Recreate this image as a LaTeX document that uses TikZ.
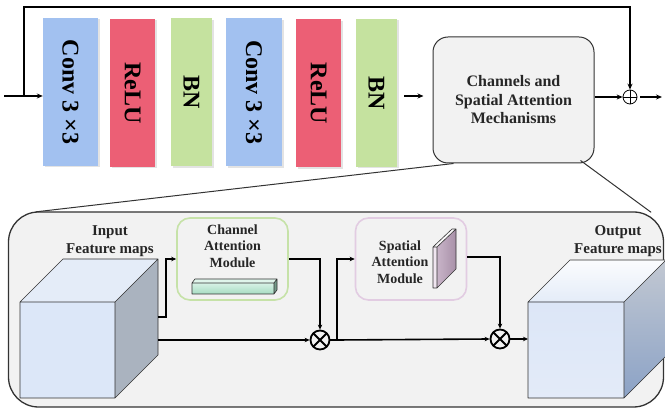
\documentclass[tikz,border=0pt]{standalone}
\usepackage{fontspec}
\setmainfont{Liberation Serif}
\usetikzlibrary{arrows.meta,shadows}
\definecolor{convblue}{HTML}{A2C1F0}
\definecolor{relured}{HTML}{EC5F75}
\definecolor{bngreen}{HTML}{C5E29F}
\definecolor{panelgray}{HTML}{F2F2F2}
\definecolor{edgegray}{HTML}{333333}
\definecolor{camgreen}{HTML}{C6E2A8}
\definecolor{sampink}{HTML}{E2CCE2}
\definecolor{cubetop}{HTML}{E4ECF8}
\definecolor{cubeside}{HTML}{AAB3BF}
\definecolor{cubefront}{HTML}{DCE7F8}
\definecolor{barlight}{HTML}{D8F2E6}
\definecolor{bardark}{HTML}{A6DCC2}
\definecolor{slablight}{HTML}{C8B4C8}
\definecolor{slabdark}{HTML}{A890A8}
\definecolor{slabedge}{HTML}{F0E6F0}
\definecolor{outfrontmid}{HTML}{B2CBF0}
\definecolor{outfronttop}{HTML}{DCE6F7}
\definecolor{outsidetop}{HTML}{C2C8D2}
\definecolor{outsidebot}{HTML}{8BA2C6}
\newcommand\lyrfont{\fontsize{24}{24}\selectfont\bfseries}
\tikzset{
  layerbox/.style={draw=none, fill=#1, minimum height=148pt, inner sep=0pt,
    drop shadow={shadow xshift=1.5pt, shadow yshift=-1.5pt, fill=black!22}},
  arr/.style={-{Stealth[length=6pt,width=5pt]}, line width=1.4pt},
  smallarr/.style={-{Stealth[length=5pt,width=4.5pt]}, line width=1.6pt},
  otimesnode/.style={circle, draw, line width=1.8pt, minimum size=19pt, inner sep=0pt,
    path picture={\draw[line width=1.8pt] ([shift={(-6.7pt,6.7pt)}]path picture bounding box.center) -- ([shift={(6.7pt,-6.7pt)}]path picture bounding box.center)
      ([shift={(6.7pt,6.7pt)}]path picture bounding box.center) -- ([shift={(-6.7pt,-6.7pt)}]path picture bounding box.center);}},
  oplusnode/.style={circle, draw, line width=0.8pt, minimum size=14pt, inner sep=0pt,
    path picture={\draw[line width=0.8pt] (path picture bounding box.north) -- (path picture bounding box.south)
      (path picture bounding box.east) -- (path picture bounding box.west);}},
  lbl/.style={font=\fontsize{15}{18}\selectfont\bfseries, align=center, text=black!85},
  modlbl/.style={font=\fontsize{14}{16.5}\selectfont\bfseries, align=center, text=black!85},
  modbox/.style={draw=#1, line width=1.6pt, fill=panelgray, rounded corners=13pt,
    minimum width=111pt, minimum height=82pt, inner sep=0pt},
  edgeline/.style={edgegray, line width=0.6pt, line join=round},
}
\begin{document}
\begin{tikzpicture}[x=1pt,y=-1pt]
\useasboundingbox (0,0) rectangle (665,411);

% ---------- top row ----------
\node[layerbox=convblue, minimum width=55pt] (c1) at (70.5,92) {\rotatebox[origin=c]{-90}{\lyrfont Conv 3 ×3}};
\node[layerbox=relured, minimum width=45pt] (r1) at (132.5,93) {\rotatebox[origin=c]{-90}{\lyrfont ReLU}};
\node[layerbox=bngreen, minimum width=41pt] (b1) at (191.5,92.5) {\rotatebox[origin=c]{-90}{\lyrfont BN}};
\node[layerbox=convblue, minimum width=56pt] (c2) at (254,92.5) {\rotatebox[origin=c]{-90}{\lyrfont Conv 3 ×3}};
\node[layerbox=relured, minimum width=45pt] (r2) at (318.5,93.5) {\rotatebox[origin=c]{-90}{\lyrfont ReLU}};
\node[layerbox=bngreen, minimum width=41pt] (b2) at (376.5,93) {\rotatebox[origin=c]{-90}{\lyrfont BN}};

\node[draw=edgegray, line width=1pt, fill=panelgray, rounded corners=15pt,
      minimum width=161pt, minimum height=126pt, inner sep=0pt,
      font=\fontsize{16}{18.5}\selectfont\bfseries, align=center, text=black!85] (cam) at (513.5,100)
      {Channels and\\Spatial Attention\\Mechanisms};

\node[oplusnode] (sum) at (630,97) {};

\coordinate (in) at (4,96);
\coordinate (split) at (24,96);
\coordinate (out) at (662,97);

\draw[arr] (in) -- (c1.west |- in);
\draw[line width=1.8pt, -{Stealth[length=6pt,width=5pt]}] (split) |- (24,7) -| (sum.north);
\draw[arr] ([xshift=7pt]b2.east |- in) -- ([xshift=-9pt]cam.west |- in);
\draw[arr] (cam.east |- sum) -- (sum.west);
\draw[arr] ([xshift=3pt]sum.east) -- (out);

% ---------- lower panel ----------
\node[draw=edgegray, line width=1.3pt, fill=panelgray, rounded corners=30pt,
      minimum width=655pt, minimum height=195pt, inner sep=0pt] (panel) at (336,309.5) {};

\draw[line width=1pt, edgegray] ([xshift=-60pt]cam.south) -- ([xshift=28pt,yshift=-0.5pt]panel.north west);
\draw[line width=1pt, edgegray] ([xshift=-14pt,yshift=3pt]cam.south east) -- ([xshift=-13pt,yshift=-1pt]panel.north east);

% input cube
\coordinate (ia) at (20,302);
\coordinate (ib) at (115,302);
\coordinate (ic) at (115,398);
\coordinate (id) at (20,398);
\fill[cubetop] (ia) -- ++(43,-43) -- ++(95,0) -- (ib) -- cycle;
\fill[cubeside] (ib) -- ++(43,-43) -- ++(0,96) -- (ic) -- cycle;
\fill[cubefront] (ia) rectangle (ic);
\draw[edgeline] (ia) -- ++(43,-43) -- ++(95,0) -- (ib) -- cycle
  (ib) -- ++(43,-43) -- ++(0,96) -- (ic)
  (ia) rectangle (ic);
\coordinate (incube1) at (158,317);
\coordinate (incube2) at (158,340);
\node[lbl] (inlbl) at (110,241) {Input\\Feature maps};

% channel attention module
\node[modbox=camgreen] (cmod) at (232.5,259) {};
\node[modlbl, anchor=north] (cmodlbl) at (232.5,221) {Channel\\Attention\\Module};
\coordinate (ba) at (192,283);
\shade[top color=barlight, bottom color=bardark] (ba) rectangle (274,294);
\fill[barlight!80!white] (ba) -- ++(3,-4) -- ++(82,0) -- (274,283) -- cycle;
\fill[bardark!70!black] (274,283) -- ++(3,-4) -- ++(0,11) -- (274,294) -- cycle;
\draw[edgeline] (ba) rectangle (274,294) (ba) -- ++(3,-4) -- ++(82,0) -- (274,283)
  (277,279) -- (277,290) -- (274,294);

% spatial attention module
\node[modbox=sampink] (smod) at (411,259) {};
\node[modlbl] (smodlbl) at (400,262) {Spatial\\Attention\\Module};
\coordinate (sa) at (433,247);
\shade[left color=slablight, right color=slabdark] (437,247) -- (456,229) -- (456,269) -- (437,288) -- cycle;
\fill[slabedge] (sa) rectangle (437,288);
\fill[white!90!slablight] (sa) -- (452,229) -- (456,229) -- (437,247) -- cycle;
\draw[edgeline] (sa) rectangle (437,288) (sa) -- (452,229) -- (456,229) -- (437,247)
  (456,229) -- (456,269) -- (437,288);

% multiply nodes
\node[otimesnode] (m1) at (320,340) {};
\node[otimesnode] (m2) at (500,339) {};
\coordinate (br2) at (337,340);

\draw[smallarr] (incube1) -- ++(8,0) |- (cmod.west);
\draw[smallarr] (incube2) -- (m1.west);
\draw[smallarr] (cmod.east) -| (m1.north);
\draw[line width=1.6pt] (m1.east) -- (br2);
\draw[smallarr] (br2) |- (smod.west);
\draw[smallarr] (br2) -- (m2.west);
\draw[smallarr] ([yshift=2pt]smod.east) -| (m2.north);

% output cube
\coordinate (oa) at (528,302);
\coordinate (ob) at (624,302);
\coordinate (oc) at (624,398);
\shade[top color=white!85!cubetop, bottom color=cubetop] (oa) -- ++(42,-42) -- ++(96,0) -- (ob) -- cycle;
\shade[top color=outsidetop, bottom color=outsidebot] (ob) -- ++(42,-42) -- ++(0,96) -- (oc) -- cycle;
\shade[top color=outfronttop, middle color=outfrontmid, bottom color=outfronttop!80!white] (oa) rectangle (oc);
\draw[edgeline] (oa) -- ++(42,-42) -- ++(96,0)
  (ob) -- ++(42,-42)
  (oc) -- ++(42,-42)
  (oa) rectangle (oc);
\node[lbl] (outlbl) at (618,241) {Output\\Feature maps};
\draw[smallarr] (m2.east) -- (oa |- m2);
\end{tikzpicture}
\end{document}
